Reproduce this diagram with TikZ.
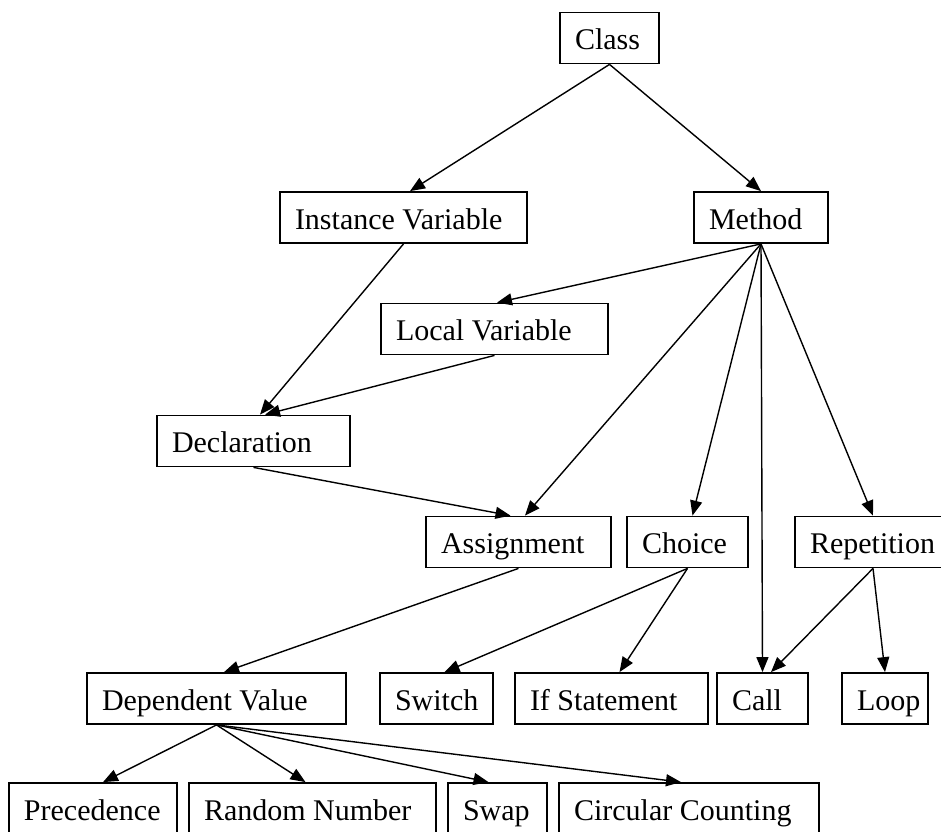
\documentclass[tikz,border=0pt]{standalone}
\usepackage{fontspec}
\setmainfont{Liberation Serif}
\usetikzlibrary{arrows.meta,calc}

% box label: fixed-width, left-aligned text inside a box of #1 px
\newcommand\lbl[2]{\makebox[\dimexpr #1pt/2-15pt\relax][l]{#2}}

\tikzset{
  box/.style={draw, line width=0.9pt, inner xsep=7.5pt, inner ysep=0pt,
    minimum height=25.5pt, text height=12.5pt, text depth=1pt,
    font=\fontsize{15}{17}\selectfont},
  edge/.style={-{Triangle[length=7.5pt,width=6pt]}, line width=0.7pt}
}

\begin{document}
\begin{tikzpicture}[x=0.5pt,y=-0.5pt]
  \useasboundingbox (0,0) rectangle (941,831);
  \fill[white] (0,0) rectangle (941,831);
  \clip (0,0) rectangle (941,831);

  % nodes
  \node[box] (class)  at (609.5,38)  {\lbl{99}{Class}};
  \node[box] (iv)     at (403.5,217.5) {\lbl{247}{Instance Variable}};
  \node[box] (method) at (761,217.5) {\lbl{134}{Method}};
  \node[box] (lv)     at (494.5,329) {\lbl{227}{Local Variable}};
  \node[box] (decl)   at (253.5,441) {\lbl{193}{Declaration}};
  \node[box] (assign) at (518.5,542) {\lbl{185}{Assignment}};
  \node[box] (choice) at (687.5,542) {\lbl{121}{Choice}};
  \node[box] (rep)    at (873,542)   {\lbl{156}{Repetition}};
  \node[box] (dv)     at (216.5,698.5) {\lbl{259}{Dependent Value}};
  \node[box] (switch) at (436.5,698.5) {\lbl{113}{Switch}};
  \node[box] (ifst)   at (611.5,698.5) {\lbl{193}{If Statement}};
  \node[box] (call)   at (762.5,698.5) {\lbl{91}{Call}};
  \node[box] (loop)   at (885,698.5) {\lbl{86}{Loop}};
  \node[box] (prec)   at (93,808.5)  {\lbl{168}{Precedence}};
  \node[box] (rand)   at (312.5,808.5) {\lbl{247}{Random Number}};
  \node[box] (swap)   at (497.5,808.5) {\lbl{99}{Swap}};
  \node[box] (circ)   at (689,808.5) {\lbl{260}{Circular Counting}};

  % connectors
  \draw[edge] (class.south) -- ($(iv.north)+(6.5,0)$);
  \draw[edge] (class.south) -- (method.north);
  \draw[edge] (iv.south) -- ($(decl.north)+(6.5,0)$);
  \draw[edge] (lv.south) -- ($(decl.north)+(11.5,0)$);
  \draw[edge] (method.south) -- ($(lv.north)+(2.5,0)$);
  \draw[edge] (method.south) -- ($(assign.north)+(6.5,0)$);
  \draw[edge] (decl.south) -- ($(assign.north)+(-8,0)$);
  \draw[edge] (method.south) -- ($(choice.north)+(5,0)$);
  \draw[edge] (method.south) -- (call.north);
  \draw[edge] (method.south) -- (rep.north);
  \draw[edge] (assign.south) -- ($(dv.north)+(7.5,0)$);
  \draw[edge] (choice.south) -- ($(switch.north)+(8,0)$);
  \draw[edge] (choice.south) -- ($(ifst.north)+(8,0)$);
  \draw[edge] (rep.south) -- ($(call.north)+(8.5,0)$);
  \draw[edge] (rep.south) -- (loop.north);
  \draw[edge] (dv.south) -- ($(prec.north)+(10,0)$);
  \draw[edge] (dv.south) -- ($(rand.north)+(-7,0)$);
  \draw[edge] (dv.south) -- ($(swap.north)+(-9,0)$);
  \draw[edge] (dv.south) -- ($(circ.north)+(-8,0)$);
\end{tikzpicture}
\end{document}
